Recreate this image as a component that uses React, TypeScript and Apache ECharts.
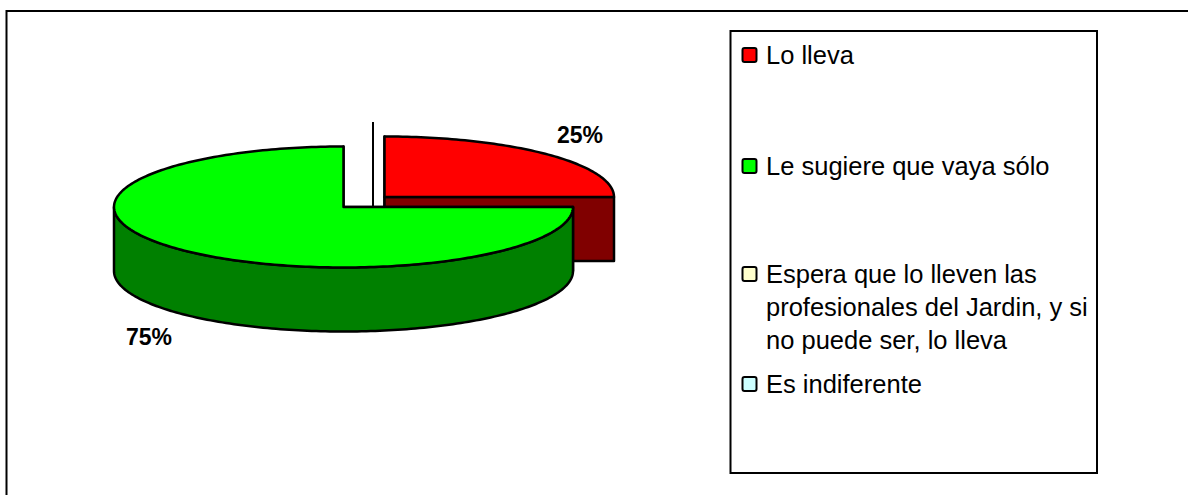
import React, { useEffect, useRef } from "react";
import * as echarts from "echarts";

const categories = [
  "Lo lleva",
  "Le sugiere que vaya sólo",
  "Espera que lo lleven las\nprofesionales del Jardin, y si\nno puede ser, lo lleva",
  "Es indiferente",
];
const values = [25, 75, 0, 0];
const topColors = ["#FF0000", "#00FF00", "#FFFFCC", "#CCFFFF"];
const sideColors = ["#800000", "#008000", "#808066", "#668080"];

const CX = 343.5, CY = 207, RX = 229.5, RY = 60.5, DEPTH = 64;
const OFFSETS = [[41, -10], [0, 0], [0, 0], [0, 0]];
const LABEL_POS = [[580, 135], [149, 337]];
const LEGEND_CY = [55, 166, 274, 384];
const LINE_H = 33;
const FONT = "'Liberation Sans', Arial, sans-serif";

const total = values.reduce((a, b) => a + b, 0);

function arcPoints(cx: number, cy: number, t0: number, t1: number, dy = 0) {
  const n = Math.max(2, Math.ceil(Math.abs(t1 - t0) / 0.02));
  const pts: number[][] = [];
  for (let i = 0; i <= n; i++) {
    const t = t0 + ((t1 - t0) * i) / n;
    pts.push([cx + RX * Math.sin(t), cy - RY * Math.cos(t) + dy]);
  }
  return pts;
}

function renderSlice(index: number) {
  return (_params: any, api: any) => {
    const v = api.value(0);
    if (!v) return { type: "group", children: [] };
    const before = values.slice(0, index).reduce((a, b) => a + b, 0);
    const t0 = (before / total) * 2 * Math.PI;
    const t1 = ((before + v) / total) * 2 * Math.PI;
    const cx = CX + OFFSETS[index][0];
    const cy = CY + OFFSETS[index][1];
    const border = { stroke: "#000", lineWidth: 2.5, lineJoin: "round" };
    const side = { fill: sideColors[index], ...border };
    const top = { fill: topColors[index], ...border };
    const children: any[] = [];
    for (const t of [t0, t1]) {
      const e = [cx + RX * Math.sin(t), cy - RY * Math.cos(t)];
      children.push({
        type: "polygon",
        shape: { points: [[cx, cy], e, [e[0], e[1] + DEPTH], [cx, cy + DEPTH]] },
        style: side,
      });
    }
    const f0 = Math.max(t0, Math.PI / 2);
    const f1 = Math.min(t1, (3 * Math.PI) / 2);
    if (f1 > f0) {
      const upper = arcPoints(cx, cy, f0, f1);
      const lower = arcPoints(cx, cy, f1, f0, DEPTH);
      children.push({ type: "polygon", shape: { points: [...upper, ...lower] }, style: side });
    }
    children.push({
      type: "polygon",
      shape: { points: [[cx, cy], ...arcPoints(cx, cy, t0, t1)] },
      style: top,
    });
    const lp = LABEL_POS[index];
    children.push({
      type: "text",
      x: lp[0],
      y: lp[1],
      style: {
        text: `${Math.round((v / total) * 100)}%`,
        font: `bold 23px ${FONT}`,
        fill: "#000",
        align: "center",
        verticalAlign: "middle",
      },
    });
    return { type: "group", children };
  };
}

export default function App() {
  const ref = useRef<HTMLDivElement>(null);
  useEffect(() => {
    const chart = echarts.init(ref.current!, undefined, { renderer: "svg" });
    const legendItems = categories.flatMap((c, i) => {
      const lines = c.split("\n");
      return [
        {
          type: "rect",
          silent: true,
          z: 5,
          shape: { x: 742.5, y: LEGEND_CY[i] - 7, width: 14, height: 14, r: 2 },
          style: { fill: topColors[i], stroke: "#000", lineWidth: 2 },
        },
        ...lines.map((line, k) => ({
          type: "text",
          silent: true,
          z: 5,
          x: 766,
          y: LEGEND_CY[i] + k * LINE_H,
          style: {
            text: line,
            font: `25.5px ${FONT}`,
            fill: "#000",
            align: "left",
            verticalAlign: "middle",
          },
        })),
      ];
    });
    chart.setOption({
      animation: false,
      backgroundColor: "#fff",
      graphic: [
        { type: "polyline", silent: true, z: 0, shape: { points: [[1188, 11], [6.5, 11], [6.5, 495]] }, style: { fill: "none", stroke: "#000", lineWidth: 2 } },
        { type: "rect", silent: true, z: 0, shape: { x: 730.5, y: 31, width: 366.5, height: 442 }, style: { fill: "#fff", stroke: "#000", lineWidth: 2 } },
        { type: "line", silent: true, z: 0, shape: { x1: 373, y1: 122, x2: 373, y2: 207 }, style: { stroke: "#000", lineWidth: 2 } },
        ...legendItems,
      ],
      series: categories.map((c, i) => ({
        type: "custom",
        name: c,
        coordinateSystem: "none",
        itemStyle: { color: topColors[i] },
        renderItem: renderSlice(i),
        data: [values[i]],
        silent: true,
        z: 2,
      })),
    });
    return () => chart.dispose();
  }, []);
  return <div ref={ref} style={{ position: "fixed", left: 0, top: 0, width: 1188, height: 495 }} />;
}
